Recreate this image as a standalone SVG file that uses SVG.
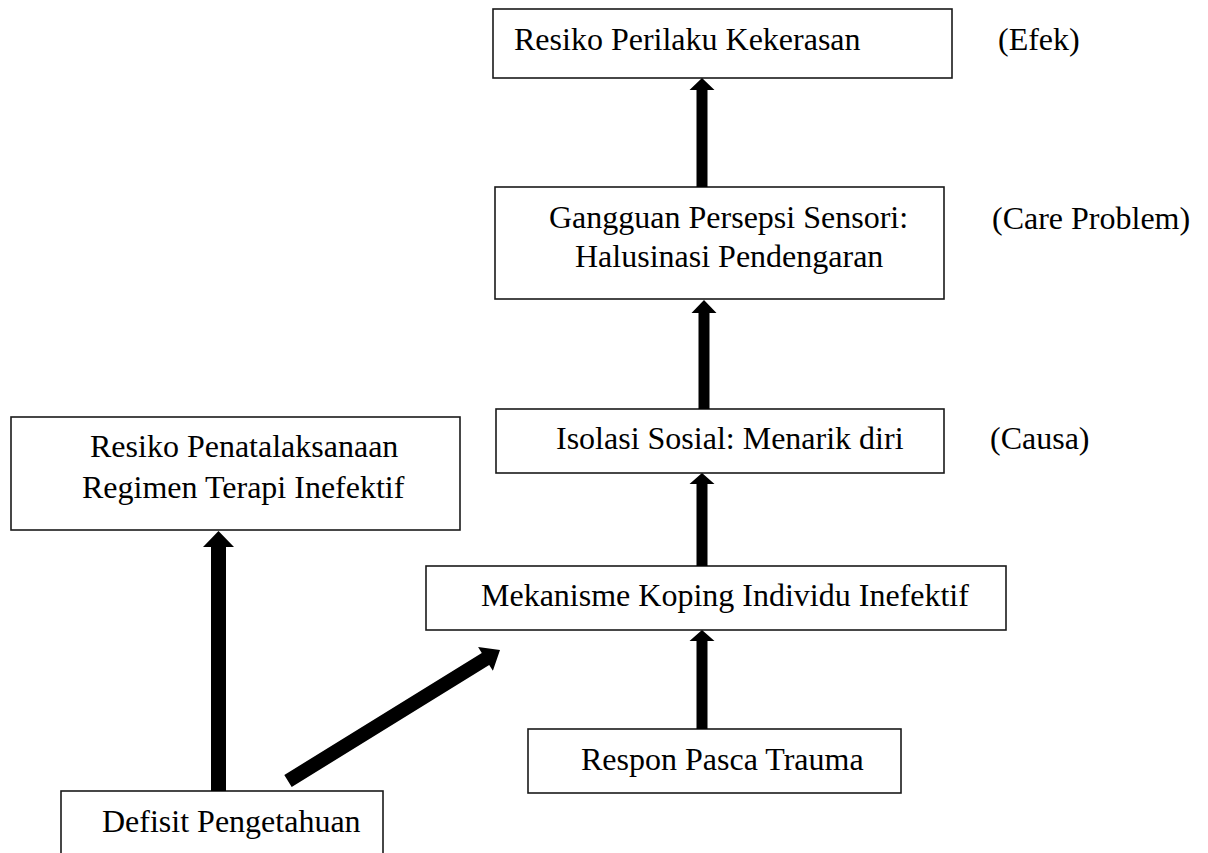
<svg xmlns="http://www.w3.org/2000/svg" width="1208" height="853" viewBox="0 0 1208 853">
<style>
.box{fill:#fff;stroke:#1a1a1a;stroke-width:1.6}
.t{font-family:"Liberation Serif","Times New Roman",serif;font-size:32px;fill:#000}
.arr{fill:#000;stroke:none}
</style>
<rect x="0" y="0" width="1208" height="853" fill="#fff"/>
<g id="n-resiko-perilaku">
<rect class="box" x="493" y="9" width="459" height="69"/>
<text class="t" x="514" y="50">Resiko Perilaku Kekerasan</text>
</g>
<g id="n-gangguan">
<rect class="box" x="495" y="187" width="449" height="112"/>
<text class="t" x="549" y="228">Gangguan Persepsi Sensori:</text>
<text class="t" x="575" y="267">Halusinasi Pendengaran</text>
</g>
<g id="n-isolasi">
<rect class="box" x="496" y="409" width="448" height="64"/>
<text class="t" x="556" y="449">Isolasi Sosial: Menarik diri</text>
</g>
<g id="n-mekanisme">
<rect class="box" x="426" y="566" width="580" height="64"/>
<text class="t" x="481" y="606">Mekanisme Koping Individu Inefektif</text>
</g>
<g id="n-respon">
<rect class="box" x="528" y="729" width="373" height="64"/>
<text class="t" x="581" y="770">Respon Pasca Trauma</text>
</g>
<g id="n-resiko-penatalaksanaan">
<rect class="box" x="11" y="417" width="449" height="113"/>
<text class="t" x="90" y="457">Resiko Penatalaksanaan</text>
<text class="t" x="82" y="498">Regimen Terapi Inefektif</text>
</g>
<g id="n-defisit">
<rect class="box" x="61" y="791" width="322" height="80"/>
<text class="t" x="102" y="832">Defisit Pengetahuan</text>
</g>
<g id="labels">
<text class="t" x="998" y="50">(Efek)</text>
<text class="t" x="992" y="229">(Care Problem)</text>
<text class="t" x="990" y="449">(Causa)</text>
</g>
<g id="connectors">
<polygon class="arr" points="696.5,187 696.5,90 689.5,90 702,78 714.5,90 707.5,90 707.5,187"/>
<polygon class="arr" points="698.5,409 698.5,313 691.5,313 704,300 716.5,313 709.5,313 709.5,409"/>
<polygon class="arr" points="696.5,566 696.5,484 689.5,484 702,473 714.5,484 707.5,484 707.5,566"/>
<polygon class="arr" points="696.5,729 696.5,641 689.5,641 702,630 714.5,641 707.5,641 707.5,729"/>
<polygon class="arr" points="211,791 211,547 203,547 218.5,531 234,547 226,547 226,791"/>
<polygon class="arr" points="284.3,775 481.8,652.9 478.1,647 500,650 492.9,670.8 489.2,664.9 291.7,787"/>
</g>
</svg>
